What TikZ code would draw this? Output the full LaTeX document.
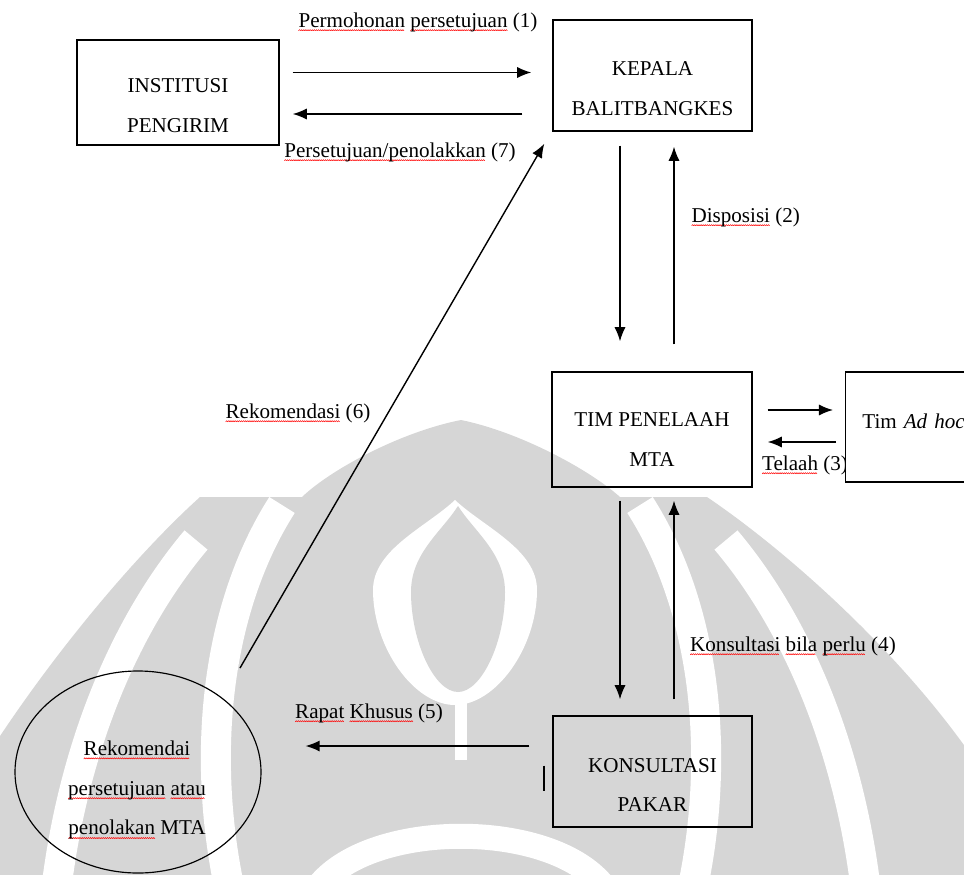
\documentclass[tikz,border=0pt]{standalone}
\usepackage{fontspec}
\setmainfont{Liberation Serif}
\usepackage{tikz}
\usetikzlibrary{calc,arrows.meta,shapes.geometric}
\tikzset{
every picture/.style={
line width=1pt
}}
\definecolor{wmgray}{RGB}{214,214,214}
\newcommand{\txt}{\fontsize{18}{34}\selectfont}
% red squiggle of the spell checker
\newsavebox{\wavebox}
\newsavebox{\spellbox}
\sbox{\wavebox}{\tikz[line width=0.45pt]{\useasboundingbox (0,0) rectangle (1.8pt,1pt); \draw[red] (0,0) -- (0.9pt,1pt) -- (1.8pt,0);}}
\newcommand{\spell}[1]{\sbox{\spellbox}{#1}\rlap{\lower3.2pt\hbox to \wd\spellbox{\leaders\copy\wavebox\hfill}}\usebox{\spellbox}}
% onion shape of the watermark: cx, apex y, half width, y of widest, bottom y
\newcommand{\drop}[5]{(#1,#2) .. controls ({#1+0.35*#3},{#2+0.3*(#4-#2)}) and ({#1+#3},{#4-0.45*(#4-#2)}) .. ({#1+#3},#4)
  .. controls ({#1+#3},{#4+0.5*(#5-#4)}) and ({#1+0.5*#3},#5) .. (#1,#5)
  .. controls ({#1-0.5*#3},#5) and ({#1-#3},{#4+0.5*(#5-#4)}) .. ({#1-#3},#4)
  .. controls ({#1-#3},{#4-0.45*(#4-#2)}) and ({#1-0.35*#3},{#2+0.3*(#4-#2)}) .. cycle}

\begin{document}
\begin{tikzpicture}[x=0.03cm,y=-0.03cm,
  box/.style={draw,line width=1.2pt,align=center,font=\txt,text height=69pt},
  arr/.style={-{Latex[length=12pt,width=9.5pt]},line width=1.2pt},
  lbl/.style={font=\txt,inner sep=0pt},
  band/.style={draw=white,line width=0.9cm}]
  \useasboundingbox (0,0) rectangle (964,874);
  \clip (0,0) rectangle (964,874);

  % watermark
  \fill[wmgray] (461,420) .. controls (520,432) and (590,470) .. (620,497) -- (707,497)
    .. controls (800,560) and (930,680) .. (1000,800) -- (1000,900) -- (-40,900) -- (-40,800)
    .. controls (30,680) and (130,560) .. (200,497) -- (302,497) .. controls (330,470) and (400,432) .. cycle;
  \draw[band] (196,540) .. controls (120,630) and (70,760) .. (55,900);
  \draw[band] (726,540) .. controls (802,630) and (852,760) .. (867,900);
  \draw[band] (282,505) .. controls (215,610) and (200,760) .. (232,900);
  \draw[band] (640,505) .. controls (707,610) and (722,760) .. (690,900);
  \draw[band,line width=0.75cm] (310,900) .. controls (350,815) and (572,815) .. (612,900);
  \fill[white] \drop{455}{500}{82}{590}{705};
  \fill[wmgray] \drop{458}{506}{47}{592}{692};
  \draw[white,line width=0.36cm] (461,695) -- (461,760);

  \node[box,minimum width=6.06cm,minimum height=3.15cm] (inst) at (178,92.5) {INSTITUSI\\PENGIRIM};
  \node[box,minimum width=5.97cm,minimum height=3.33cm] (kepala) at (652.5,75.5) {KEPALA\\BALITBANGKES};
  \node[box,minimum width=6cm,minimum height=3.45cm,text height=63pt] (tim) at (652,429.5) {TIM PENELAAH\\MTA};
  \node[box,minimum width=5.97cm,minimum height=3.33cm] (pakar) at (652.5,771.5) {KONSULTASI\\PAKAR};
  \node[ellipse,draw,minimum width=7.38cm,minimum height=6.06cm] (rek) at (138,772) {};
  \node[font=\txt,align=center] (rektxt) at (137,790) {\spell{Rekomendai}\\\spell{persetujuan} \spell{atau}\\\spell{penolakan} MTA};

  \node[lbl] (l1) at (418,22) {\spell{Permohonan} \spell{persetujuan} (1)};
  \node[lbl] (l7) at (400,152) {\spell{Persetujuan/penolakkan} (7)};
  \node[lbl,anchor=west] (l2) at (691,217) {\spell{Disposisi} (2)};
  \node[lbl] (l3) at (805,465) {\spell{Telaah} (3)};
  \node[lbl] (l4) at (793,646) {\spell{Konsultasi} \spell{bila} \spell{perlu} (4)};
  \node[lbl] (l5) at (369,713) {\spell{Rapat} \spell{Khusus} (5)};
  \node[lbl] (l6) at (298,413) {\spell{Rekomendasi} (6)};

  \node[box,fill=white,anchor=west,minimum width=6cm,minimum height=3.3cm,text width=5cm,align=left,text height=3pt] (adhoc) at (845,427) {Tim \textit{Ad hoc}};

  \draw[arr] ($(inst.east)+(13,-20)$) -- ($(kepala.west)+(-21,-3)$);
  \draw[arr] ($(kepala.west)+(-30,38.5)$) -- ($(inst.east)+(13,21.5)$);
  \draw[arr] ($(kepala.south)+(-32.5,14)$) -- ($(tim.north)+(-32,-30)$);
  \draw[arr] ($(tim.north)+(22,-27)$) -- ($(kepala.south)+(21.5,15)$);
  \draw[arr] ($(tim.east)+(15,-19.5)$) -- ($(adhoc.west)+(-12,-17)$);
  \draw[arr] ($(adhoc.west)+(-9,15)$) -- ($(tim.east)+(15,12.5)$);
  \draw[arr] ($(tim.south)+(-32,13)$) -- ($(pakar.north)+(-32.5,-16)$);
  \draw[arr] ($(pakar.north)+(21.5,-16)$) -- ($(tim.south)+(22,13)$);
  \draw[arr] ($(pakar.west)+(-23,-25.5)$) -- ($(rek.east)+(44,-26)$);
  \draw[arr] ($(rek.center)+(102,-104)$) -- ($(kepala.south west)+(-8,12)$);
  \draw[line width=2pt] ($(pakar.west)+(-8,-6)$) -- ($(pakar.west)+(-8,19)$);
\end{tikzpicture}
\end{document}
